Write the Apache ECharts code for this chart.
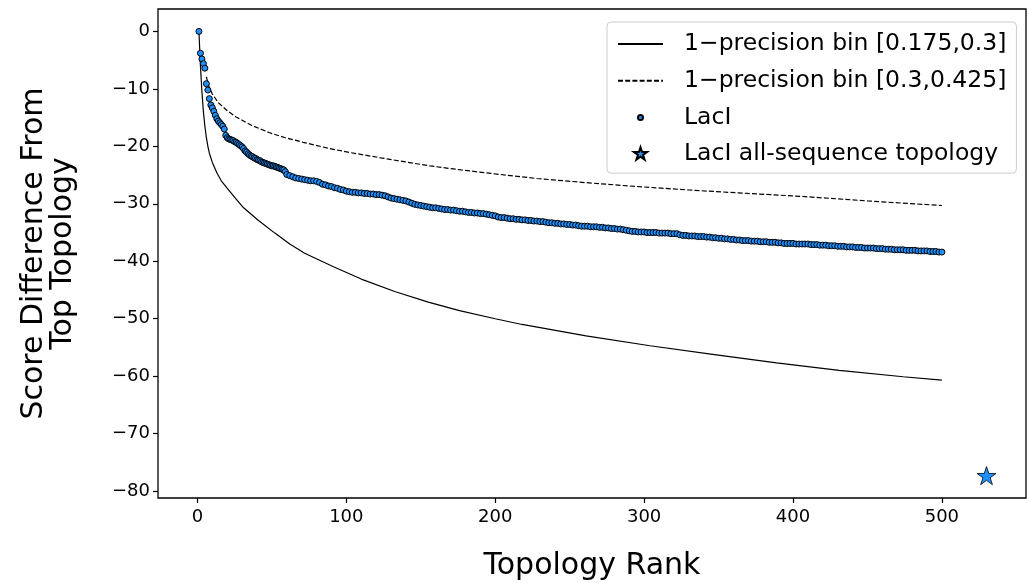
<!DOCTYPE html>
<html>
<head>
<meta charset="utf-8">
<script src="https://cdn.jsdelivr.net/npm/echarts@6/dist/echarts.min.js"></script>
<style>
  html, body { margin: 0; padding: 0; background: #fff; }
  #chart { width: 1030px; height: 583px; }
</style>
</head>
<body>
<div id="chart"></div>
<script>
// tick labels
var xTicks = [0, 100, 200, 300, 400, 500];
var yTicks = [0, -10, -20, -30, -40, -50, -60, -70, -80];

// 1-precision bin [0.175,0.3] (rank, score)
var binLowRanks = [1, 2, 3, 4, 5, 6, 7, 8, 10, 13, 16, 21, 26, 31, 41, 52, 62, 72, 91, 110, 133, 155, 176, 200, 218, 261, 304, 346, 389, 431, 474, 500];
var binLowScores = [0, -6, -10.5, -14, -16.5, -18.5, -20.0, -21.2, -22.8, -24.6, -26, -27.6, -29.2, -30.7, -32.9, -35.1, -37.0, -38.6, -40.9, -43.1, -45.3, -47.1, -48.6, -50.0, -51.0, -53.0, -54.7, -56.2, -57.7, -59.0, -60.1, -60.7];

// 1-precision bin [0.3,0.425]
var binHighRanks = [6, 7, 8, 10, 14, 20, 26, 36, 48, 59, 71, 89, 103, 123, 156, 177, 200, 228, 260, 290, 330, 370, 405, 450, 500];
var binHighScores = [-7.9, -9.0, -9.8, -10.9, -12.4, -13.8, -14.9, -16.3, -17.6, -18.5, -19.3, -20.4, -21.1, -22.0, -23.4, -24.1, -24.8, -25.6, -26.3, -26.9, -27.6, -28.2, -28.7, -29.5, -30.3];

// LacI topologies: ranks 1..60 one by one
var lacHeadScores = [0, -3.8, -4.8, -5.6, -6.4, -9.1, -10.2, -11.7, -12.8, -13.3,
  -13.9, -14.6, -15.2, -15.6, -15.9, -16.2, -16.5, -17.0, -18.1, -18.5,
  -18.7, -18.8, -18.9, -19.0, -19.2, -19.3, -19.5, -19.7, -19.9, -20.1,
  -20.4, -20.8, -21.0, -21.3, -21.5, -21.7, -21.8, -22.0, -22.1, -22.3,
  -22.4, -22.5, -22.7, -22.8, -22.9, -23.0, -23.1, -23.2, -23.3, -23.4,
  -23.4, -23.5, -23.6, -23.7, -23.8, -23.9, -24.0, -24.1, -24.4, -24.9];
// LacI topologies: ranks 62..500, every second rank
var lacTailScores = [-25.1, -25.3, -25.5, -25.6, -25.7, -25.8, -25.9, -26.0, -26.0, -26.1,
  -26.3, -26.6, -26.7, -26.9, -27.0, -27.2, -27.3, -27.5, -27.6, -27.8,
  -27.9, -28.0, -28.0, -28.1, -28.1, -28.2, -28.2, -28.3, -28.3, -28.4,
  -28.4, -28.5, -28.6, -28.8, -29.0, -29.1, -29.2, -29.3, -29.4, -29.5,
  -29.7, -29.9, -30.1, -30.2, -30.3, -30.4, -30.5, -30.6, -30.7, -30.7,
  -30.8, -30.9, -31.0, -31.0, -31.1, -31.1, -31.2, -31.3, -31.3, -31.4,
  -31.5, -31.5, -31.6, -31.6, -31.7, -31.7, -31.8, -31.9, -32.0, -32.1,
  -32.3, -32.4, -32.4, -32.5, -32.6, -32.6, -32.7, -32.7, -32.8, -32.8,
  -32.9, -32.9, -33.0, -33.0, -33.1, -33.1, -33.2, -33.3, -33.3, -33.4,
  -33.4, -33.5, -33.5, -33.6, -33.6, -33.7, -33.7, -33.8, -33.9, -33.9,
  -33.9, -34.0, -34.0, -34.0, -34.1, -34.1, -34.2, -34.2, -34.3, -34.3,
  -34.4, -34.4, -34.5, -34.6, -34.7, -34.8, -34.8, -34.9, -34.9, -34.9,
  -35.0, -35.0, -35.0, -35.0, -35.1, -35.1, -35.1, -35.1, -35.2, -35.2,
  -35.2, -35.4, -35.5, -35.5, -35.6, -35.6, -35.6, -35.7, -35.7, -35.7,
  -35.8, -35.8, -35.9, -35.9, -36.0, -36.0, -36.1, -36.1, -36.2, -36.2,
  -36.3, -36.3, -36.4, -36.4, -36.4, -36.5, -36.5, -36.5, -36.6, -36.6,
  -36.6, -36.7, -36.7, -36.7, -36.8, -36.8, -36.9, -36.9, -36.9, -36.9,
  -37.0, -37.0, -37.0, -37.0, -37.0, -37.1, -37.1, -37.1, -37.2, -37.2,
  -37.2, -37.3, -37.3, -37.3, -37.4, -37.4, -37.4, -37.5, -37.5, -37.5,
  -37.6, -37.6, -37.6, -37.7, -37.7, -37.7, -37.7, -37.8, -37.8, -37.8,
  -37.9, -37.9, -37.9, -38.0, -38.0, -38.0, -38.0, -38.1, -38.1, -38.1,
  -38.1, -38.2, -38.2, -38.2, -38.2, -38.3, -38.3, -38.3, -38.4, -38.4];

// LacI all-sequence topology
var allSeqRank = 530;
var allSeqScore = -77.3;

var FONT = 'DejaVu Sans';
var BLUE = '#1e90ff';
var starPath = 'path://M100 0L122.45 69.1L195.1 69.1L136.3 111.8L158.8 180.9L100 138.2L41.2 180.9L63.7 111.8L4.9 69.1L77.55 69.1Z';
var legendStar = 'path://M-30 -30M230 230M100 0L122.45 69.1L195.1 69.1L136.3 111.8L158.8 180.9L100 138.2L41.2 180.9L63.7 111.8L4.9 69.1L77.55 69.1Z';
var legendDot = 'path://M0 0M36 36M13 18A5 5 0 1 1 23 18A5 5 0 1 1 13 18Z';

function pairs(xs, ys) {
  return xs.map(function (x, i) { return [x, ys[i]]; });
}

var lacData = [];
lacHeadScores.forEach(function (v, i) { lacData.push([i + 1, v]); });
lacTailScores.forEach(function (v, i) { lacData.push([62 + 2 * i, v]); });

function minusFmt(v) {
  return v < 0 ? '\u2212' + (-v) : String(v);
}

var chart = echarts.init(document.getElementById('chart'));
chart.setOption({
  animation: false,
  textStyle: { fontFamily: FONT },
  grid: {
    left: 158, right: 4, top: 9, bottom: 85,
    outerBoundsMode: 'none',
    show: true, borderColor: '#000', borderWidth: 1.3, backgroundColor: 'transparent'
  },
  legend: {
    orient: 'vertical',
    left: 607, top: 22,
    padding: [10, 10, 7, 10],
    itemWidth: 45, itemHeight: 18, itemGap: 12.7,
    backgroundColor: 'rgba(255,255,255,0.8)',
    borderColor: '#cccccc', borderWidth: 1, borderRadius: 4,
    textStyle: { fontFamily: FONT, fontSize: 23.5, color: '#000', lineHeight: 24, padding: [0, 0, 0, 16] },
    data: [
      { name: '1\u2212precision bin [0.175,0.3]', itemStyle: { opacity: 0 } },
      { name: '1\u2212precision bin [0.3,0.425]', itemStyle: { opacity: 0 } },
      { name: 'LacI', icon: legendDot },
      { name: 'LacI all-sequence topology', icon: legendStar }
    ]
  },
  xAxis: {
    type: 'value', min: -26.5, max: 556.5,
    name: 'Topology Rank', nameLocation: 'middle', nameGap: 53,
    nameTextStyle: { fontFamily: FONT, fontSize: 30, color: '#000' },
    axisLine: { show: false, onZero: false },
    axisTick: { show: true, length: 5, lineStyle: { color: '#000', width: 1.2 }, customValues: xTicks },
    axisLabel: { color: '#000', fontSize: 18, fontFamily: FONT, margin: 10, customValues: xTicks },
    splitLine: { show: false }
  },
  yAxis: {
    type: 'value', min: -81.2, max: 3.9,
    name: 'Score Difference From\nTop Topology', nameLocation: 'middle', nameGap: 80, nameRotate: 90,
    nameTextStyle: { fontFamily: FONT, fontSize: 30, color: '#000', lineHeight: 29, align: 'center' },
    axisLine: { show: false, onZero: false },
    axisTick: { show: true, length: 5, lineStyle: { color: '#000', width: 1.2 }, customValues: yTicks },
    axisLabel: { color: '#000', fontSize: 18, fontFamily: FONT, margin: 8, customValues: yTicks, formatter: minusFmt },
    splitLine: { show: false }
  },
  series: [
    {
      name: '1\u2212precision bin [0.175,0.3]',
      type: 'line',
      data: pairs(binLowRanks, binLowScores),
      symbol: 'none', showSymbol: false,
      smooth: false,
      lineStyle: { color: '#000', width: 1.2 },
      itemStyle: { color: '#000' },
      z: 1
    },
    {
      name: '1\u2212precision bin [0.3,0.425]',
      type: 'line',
      data: pairs(binHighRanks, binHighScores),
      symbol: 'none', showSymbol: false,
      smooth: false,
      lineStyle: { color: '#000', width: 1.2, type: [5, 2.2] },
      itemStyle: { color: '#000' },
      z: 1
    },
    {
      name: 'LacI',
      type: 'scatter',
      data: lacData,
      symbol: 'circle', symbolSize: 6,
      itemStyle: { color: BLUE, borderColor: '#000', borderWidth: 1, opacity: 1 },
      z: 3
    },
    {
      name: 'LacI all-sequence topology',
      type: 'scatter',
      data: [[allSeqRank, allSeqScore]],
      symbol: starPath, symbolSize: 19, symbolKeepAspect: true,
      itemStyle: { color: BLUE, borderColor: '#000', borderWidth: 0.8, opacity: 1 },
      z: 3
    }
  ]
});
</script>
</body>
</html>
